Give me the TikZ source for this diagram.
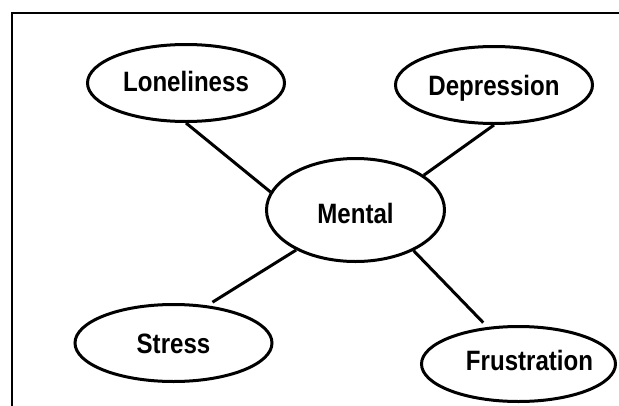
\documentclass[tikz,border=0pt]{standalone}
\usepackage{fontspec}
\newfontfamily\lblfont[FakeStretch=0.86]{Liberation Sans}
\usetikzlibrary{shapes.geometric}

\begin{document}
\begin{tikzpicture}[x=1pt,y=-1pt,
  bub/.style={ellipse,draw=black,line width=3pt,fill=white,inner sep=0pt,minimum width=197pt,minimum height=77pt},
  every label/.style={font=\lblfont\bfseries\fontsize{28}{32}\selectfont,text height=20pt,text depth=0pt,inner sep=0pt},
  link/.style={line width=3pt}]
\useasboundingbox (0,0) rectangle (619,405);
\clip (0,0) rectangle (619,405);

% frame, only top and left edges show
\draw[line width=2.8pt] (640,13) -- (12,13) -- (12,430);

\node[bub,minimum width=178pt,minimum height=103pt,label={[yshift=-3pt]center:Mental}] (mental) at (355.5,210) {};

\node[bub,label={[yshift=1.5pt]center:Loneliness}] (lonely) at (186,83) {};
\node[bub,label=center:{Depression}] (depress) at (494,85) {};
\node[bub,label=center:{Stress}] (stress) at (173.5,343) {};
\node[bub,minimum width=194pt,minimum height=75pt,label={[xshift=11pt,yshift=4pt]center:Frustration}] (frust) at (518.5,364) {};

\draw[link] (lonely.south) -- (mental.168);
\draw[link] (depress.south) -- (mental.27);
\draw[link,shorten <=6pt] (stress.48) -- (mental.214);
\draw[link,shorten <=6pt] (frust.130) -- (mental.-35);

\end{tikzpicture}
\end{document}
